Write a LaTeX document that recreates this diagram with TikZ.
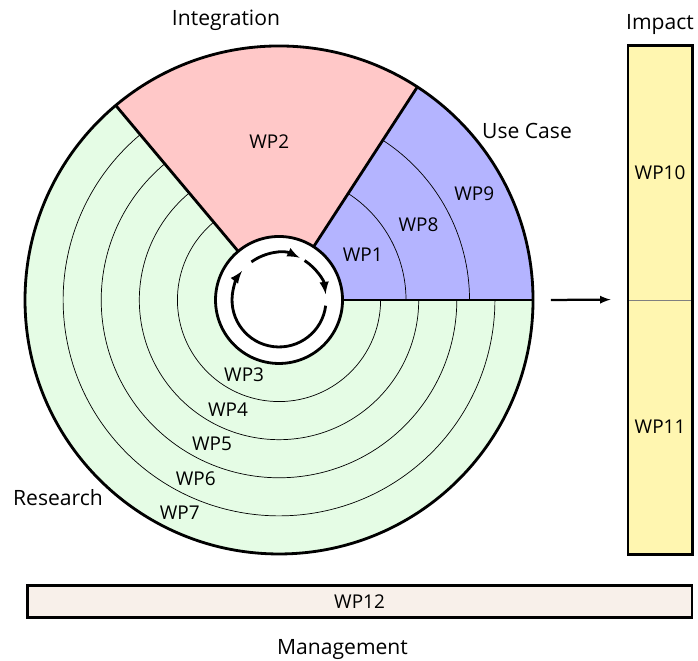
\documentclass[tikz,border=0pt]{standalone}
\usepackage{fontspec}
\setmainfont{Open Sans}
\usepackage{tikz}
\usetikzlibrary{arrows}

\definecolor{researchgreen}{RGB}{229,252,229}
\definecolor{integrationpink}{RGB}{255,200,200}
\definecolor{usecaseblue}{RGB}{180,180,255}
\definecolor{impactyellow}{RGB}{255,246,176}
\definecolor{managementbeige}{RGB}{248,240,234}

\begin{document}
\begin{tikzpicture}[x=1.5875cm, y=1.5875cm,
	thickline/.style={line width=2pt},
	ringline/.style={line width=0.5pt},
	wplabel/.style={font=\fontsize{13.5}{16}\selectfont, inner sep=0pt},
	arealabel/.style={font=\fontsize{15}{18}\selectfont, inner sep=0pt}]
	\useasboundingbox (-4.394,-5.685) rectangle (6.598,4.724);
	\def\ri{1}
	\def\ro{4}
	\def\aa{57}
	\def\ab{130}
	% sectors
	\fill[researchgreen] (\ab:\ri) -- (\ab:\ro) arc (\ab:360:\ro) -- (0:\ri) arc (360:\ab:\ri) -- cycle;
	\fill[integrationpink] (\aa:\ri) -- (\aa:\ro) arc (\aa:\ab:\ro) -- (\ab:\ri) arc (\ab:\aa:\ri) -- cycle;
	\fill[usecaseblue] (0:\ri) -- (0:\ro) arc (0:\aa:\ro) -- (\aa:\ri) arc (\aa:0:\ri) -- cycle;
	\foreach \r in {1.6,2.2,2.8,3.4}{
		\draw[ringline] (\ab:\r) arc (\ab:360:\r);
	}
	\foreach \r in {2,3}{
		\draw[ringline] (0:\r) arc (0:\aa:\r);
	}
	\foreach \a in {0,\aa,\ab}{
		\draw[thickline] (\a:\ri) -- (\a:\ro);
	}
	\draw[thickline] (0,0) circle (\ro);
	\draw[thickline, fill=white] (0,0) circle (\ri);
	% cycle
	\draw[thickline, -latex] (-7:0.74) arc (-7:-218:0.74);
	\draw[thickline, -latex] (126:0.74) arc (126:64:0.74);
	\draw[thickline, -latex] (57:0.74) arc (57:7:0.74);
	% work packages
	\node (wp1) [wplabel] at (28.5:1.5) {WP1};
	\node (wp8) [wplabel] at (28.5:2.5) {WP8};
	\node (wp9) [wplabel] at (28.5:3.5) {WP9};
	\node (wp2) [wplabel] at (93.5:2.5) {WP2};
	\foreach \n [count=\i] in {3,...,7}{
		\node (wp\n) [wplabel] at (-115:{0.7+0.6*\i}) {WP\n};
	}
	\node (integration) [arealabel] at (-0.835,4.409) {Integration};
	\node (usecase) [arealabel] at (3.906,2.661) {Use Case};
	\node (research) [arealabel] at (-3.48,-3.118) {Research};
	\node (impact) [arealabel] at (6.0,4.331) {Impact};
	\node (management) [arealabel] at (1.0,-5.512) {Management};
	% impact
	\node (wp10) [wplabel, draw=gray, ringline, fill=impactyellow, minimum width=1.5875cm, minimum height=6.35cm] at (6,2) {WP10};
	\node (wp11) [wplabel, draw=gray, ringline, fill=impactyellow, minimum width=1.5875cm, minimum height=6.35cm] at (6,-2) {WP11};
	\draw[thickline] (wp10.north west) rectangle (wp11.south east);
	\coordinate (arrowstart) at (4.28,0);
	\draw[line width=1.6pt, -latex] (arrowstart) -- ([xshift=-0.43cm]wp11.north west);
	% management
	\node (wp12) [wplabel, draw, thickline, fill=managementbeige, minimum width=16.62cm, minimum height=0.8cm] at (1.268,-4.754) {WP12};
\end{tikzpicture}
\end{document}
